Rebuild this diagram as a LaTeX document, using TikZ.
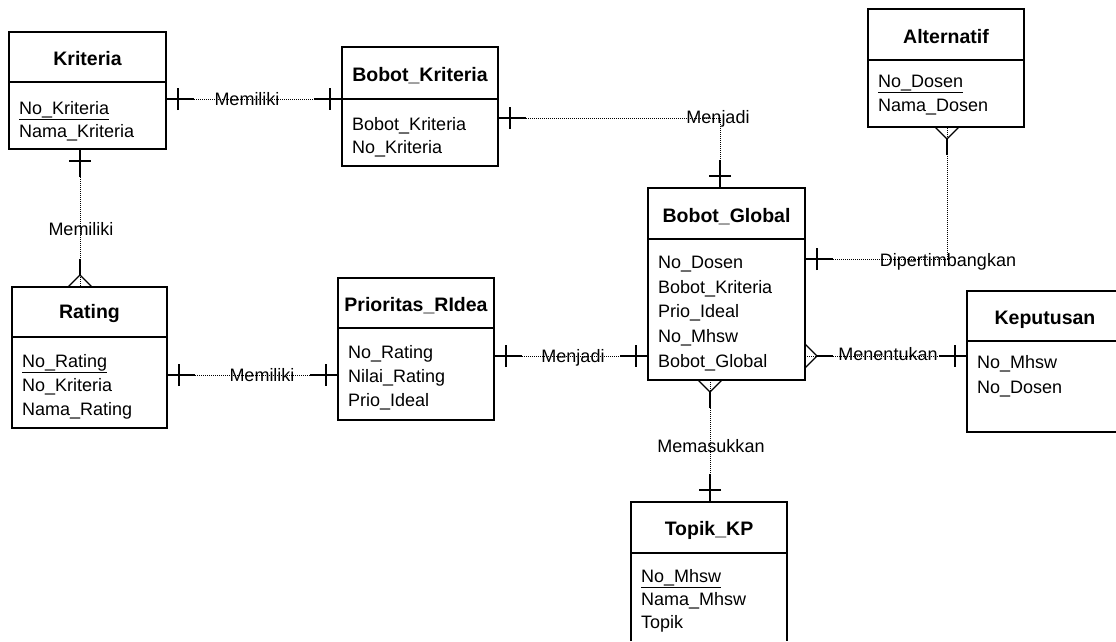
\documentclass[tikz,border=0pt]{standalone}
\usepackage{fontspec}
\setmainfont{Liberation Sans}
\begin{document}
\begin{tikzpicture}[x=1pt,y=-1pt,
  ent/.style={draw, line width=1.2pt, anchor=north west, inner sep=0pt, outer sep=0pt},
  ghost/.style={anchor=north west, inner sep=0pt, outer sep=0pt},
  boxline/.style={line width=1.2pt},
  etitle/.style={anchor=base, inner sep=0pt, font=\bfseries\fontsize{19.5}{23}\selectfont},
  attr/.style={anchor=north west, inner sep=0pt, align=left, font=\fontsize{18}{23.5}\selectfont},
  rlabel/.style={anchor=base, inner sep=0pt, font=\fontsize{18}{22}\selectfont},
  rel/.style={line width=0.8pt, dash pattern=on 0.8pt off 1.2pt},
  endline/.style={line width=1.2pt, solid},
  pics/onemk/.style args={#1/#2}{code={
    \draw[endline] (0,0) -- ({28*(#1)},{28*(#2)});
    \draw[endline] ({12*(#1)-11*(#2)},{12*(#2)+11*(#1)}) -- ({12*(#1)+11*(#2)},{12*(#2)-11*(#1)});
  }},
  pics/crowmk/.style args={#1/#2}{code={
    \draw[endline] ({-12*(#2)},{12*(#1)}) -- ({12*(#1)},{12*(#2)}) -- ({12*(#2)},{-12*(#1)});
    \draw[endline] ({12*(#1)},{12*(#2)}) -- ({28*(#1)},{28*(#2)});
  }}
]
\useasboundingbox (0,0) rectangle (1116,641);

% ---------- Entities ----------
% Kriteria
\node[ent, minimum width=157pt, minimum height=117pt] (kriteria) at (9,32) {};
\draw[boxline] (kriteria.west |- 0,82) -- (kriteria.east |- 0,82);
\node[etitle] (kriteriaT) at (87.5,65) {Kriteria};
\node[attr] (kriteriaA) at (19,101) {\underline{No\_Kriteria}\\Nama\_Kriteria};

% Bobot_Kriteria
\node[ent, minimum width=156pt, minimum height=119pt] (bobotk) at (342,47) {};
\draw[boxline] (bobotk.west |- 0,99) -- (bobotk.east |- 0,99);
\node[etitle] (bobotkT) at (420,81) {Bobot\_Kriteria};
\node[attr] (bobotkA) at (352,117) {Bobot\_Kriteria\\No\_Kriteria};

% Alternatif
\node[ent, minimum width=156pt, minimum height=118pt] (alternatif) at (868,9) {};
\draw[boxline] (alternatif.west |- 0,60) -- (alternatif.east |- 0,60);
\node[etitle] (alternatifT) at (946,43) {Alternatif};
\node[attr] (alternatifA) at (878,75) {\underline{No\_Dosen}\\Nama\_Dosen};

% Bobot_Global
\node[ent, minimum width=157pt, minimum height=192pt] (bglobal) at (648,188) {};
\draw[boxline] (bglobal.west |- 0,239) -- (bglobal.east |- 0,239);
\node[etitle] (bglobalT) at (726.5,222) {Bobot\_Global};
\node[attr, font=\fontsize{18}{24.7}\selectfont] (bglobalA) at (658,256) {No\_Dosen\\Bobot\_Kriteria\\Prio\_Ideal\\No\_Mhsw\\Bobot\_Global};

% Rating
\node[ent, minimum width=155pt, minimum height=141pt] (rating) at (12,287) {};
\draw[boxline] (rating.west |- 0,337) -- (rating.east |- 0,337);
\node[etitle] (ratingT) at (89.5,318) {Rating};
\node[attr, font=\fontsize{18}{24.2}\selectfont] (ratingA) at (22,354) {\underline{No\_Rating}\\No\_Kriteria\\Nama\_Rating};

% Prioritas_RIdea
\node[ent, minimum width=156pt, minimum height=142pt] (prioritas) at (338,278) {};
\draw[boxline] (prioritas.west |- 0,328) -- (prioritas.east |- 0,328);
\node[etitle] (prioritasT) at (416,311) {Prioritas\_RIdea};
\node[attr, font=\fontsize{18}{24}\selectfont] (prioritasA) at (348,345) {No\_Rating\\Nilai\_Rating\\Prio\_Ideal};

% Keputusan (runs past the right edge)
\node[ghost, minimum width=149pt, minimum height=141pt] (keputusan) at (967,291) {};
\draw[boxline] (keputusan.north east) -- (keputusan.north west) -- (keputusan.south west) -- (keputusan.south east);
\draw[boxline] (keputusan.west |- 0,341) -- (keputusan.east |- 0,341);
\node[etitle] (keputusanT) at (1045,324) {Keputusan};
\node[attr, font=\fontsize{18}{25.5}\selectfont] (keputusanA) at (977,355) {No\_Mhsw\\No\_Dosen};

% Topik_KP (runs past the bottom edge)
\node[ghost, minimum width=156pt, minimum height=139pt] (topik) at (631,502) {};
\draw[boxline] (topik.south west) -- (topik.north west) -- (topik.north east) -- (topik.south east);
\draw[boxline] (topik.west |- 0,553) -- (topik.east |- 0,553);
\node[etitle] (topikT) at (709,535) {Topik\_KP};
\node[attr, font=\fontsize{18}{23}\selectfont] (topikA) at (641,569) {\underline{No\_Mhsw}\\Nama\_Mhsw\\Topik};

% ---------- Relationships ----------
% Kriteria - Bobot_Kriteria
\coordinate (c1a) at (kriteria.east |- 0,99);
\coordinate (c1b) at (bobotk.west |- 0,99);
\draw[rel] (c1a) -- (c1b);
\pic at (c1a) {onemk=1/0};
\pic at (c1b) {onemk=-1/0};
\node[rlabel] (l1) at (247,105) {Memiliki};

% Bobot_Kriteria - Bobot_Global
\coordinate (c2a) at (bobotk.east |- 0,118);
\coordinate (c2b) at (720,0 |- bglobal.north);
\draw[rel] (c2a) -| (c2b);
\pic at (c2a) {onemk=1/0};
\pic at (c2b) {onemk=0/-1};
\node[rlabel] (l2) at (718,123) {Menjadi};

% Kriteria - Rating
\coordinate (c3a) at (80,0 |- kriteria.south);
\coordinate (c3b) at (80,0 |- rating.north);
\draw[rel] (c3a) -- (c3b);
\pic at (c3a) {onemk=0/1};
\pic at (c3b) {crowmk=0/-1};
\node[rlabel] (l3) at (81,235) {Memiliki};

% Rating - Prioritas
\coordinate (c4a) at (rating.east |- 0,375);
\coordinate (c4b) at (prioritas.west |- 0,375);
\draw[rel] (c4a) -- (c4b);
\pic at (c4a) {onemk=1/0};
\pic at (c4b) {onemk=-1/0};
\node[rlabel] (l4) at (262,381) {Memiliki};

% Prioritas - Bobot_Global
\coordinate (c5a) at (prioritas.east |- 0,356);
\coordinate (c5b) at (bglobal.west |- 0,356);
\draw[rel] (c5a) -- (c5b);
\pic at (c5a) {onemk=1/0};
\pic at (c5b) {onemk=-1/0};
\node[rlabel] (l5) at (573,362) {Menjadi};

% Bobot_Global - Alternatif
\coordinate (c6a) at (bglobal.east |- 0,259);
\coordinate (c6b) at (947,0 |- alternatif.south);
\draw[rel] (c6a) -| (c6b);
\pic at (c6a) {onemk=1/0};
\pic at (c6b) {crowmk=0/1};
\node[rlabel] (l6) at (948,266) {Dipertimbangkan};

% Bobot_Global - Keputusan
\coordinate (c7a) at (bglobal.east |- 0,356);
\coordinate (c7b) at (keputusan.west |- 0,356);
\draw[rel] (c7a) -- (c7b);
\pic at (c7a) {crowmk=1/0};
\pic at (c7b) {onemk=-1/0};
\node[rlabel] (l7) at (888,360) {Menentukan};

% Bobot_Global - Topik_KP
\coordinate (c8a) at (710,0 |- bglobal.south);
\coordinate (c8b) at (710,0 |- topik.north);
\draw[rel] (c8a) -- (c8b);
\pic at (c8a) {crowmk=0/1};
\pic at (c8b) {onemk=0/-1};
\node[rlabel] (l8) at (711,452) {Memasukkan};
\end{tikzpicture}
\end{document}
